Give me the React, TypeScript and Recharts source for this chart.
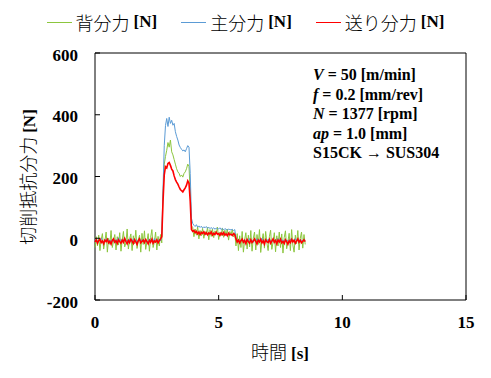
import { LineChart, Line, XAxis, YAxis, ReferenceArea } from "recharts";

// sampling interval of the logged data [s]
const STEP = 0.05;

// 背分力 [N]
const backForce = [
  -30, 5, -25, 10, -40, -5, 15, -35, -10, 20,
  -45, 0, -20, 25, -30, -8, 12, -38, 5, -22,
  18, -42, -6, 22, -28, -15, 30, -35, -2, 14,
  -40, 8, -18, 26, -33, -5, 10, -45, 16, -20,
  24, -36, -10, 15, -42, 3, 28, -30, -12, 20,
  -38, 6, -25, 12, -15, 140, 240, 265, 285, 310,
  295, 318, 280, 270, 255, 240, 225, 215, 210, 200,
  205, 198, 210, 215, 225, 240, 232, 150, 40, 35,
  5, 30, 10, 38, -2, 25, 8, 32, 0, 22,
  12, 35, -5, 28, 6, 30, 2, 24, 14, 36,
  -4, 20, 8, 33, 3, 26, 10, 30, -6, 22,
  12, 28, 4, 18, -25, 15, -40, 8, -30, 22,
  -45, -5, 18, -35, 10, -28, 25, -42, 0, 20,
  -38, 12, -20, 28, -46, -8, 15, -32, 22, -15,
  -40, 5, 26, -36, -12, 18, -44, 8, -25, 20,
  -30, 14, -48, 2, 24, -34, -10, 16, -40, 28,
  -22, -45, 10, -18, 25, -38, 0, 20, -32, 12,
  -20,
];

// 主分力 [N]
const mainForce = [
  -8, -2, -12, -5, -10, 0, -7, -14, -4, -9,
  -1, -11, -6, -13, -3, -8, -15, -5, -10, 2,
  -9, -4, -12, -7, -1, -10, -6, -14, -3, -8,
  -12, -2, -9, -5, -13, -7, 0, -11, -6, -4,
  -10, -3, -14, -8, -2, -9, -5, -12, -1, -7,
  -6, -11, -3, -9, 10, 160, 300, 365, 388, 362,
  392, 372, 382, 366, 372, 345, 330, 318, 302, 294,
  288, 283, 286, 280, 290, 300, 295, 210, 65, 48,
  42, 38, 44, 36, 40, 35, 39, 33, 37, 34,
  38, 32, 36, 31, 35, 30, 34, 29, 33, 31,
  30, 34, 28, 32, 27, 31, 29, 26, 30, 28,
  27, 29, 25, 28, 0, -8, -4, -11, -6, -2,
  -9, -5, -12, -3, -8, -1, -10, -6, -13, -4,
  -7, -2, -11, -5, -9, 0, -8, -12, -4, -10,
  -3, -9, -6, -13, -2, -8, -5, -11, -1, -7,
  -10, -4, -12, -6, -3, -9, -7, -14, -2, -8,
  -5, -11, -1, -9, -6, -12, -3, -8, -10, -4,
  -7,
];

// 送り分力 [N]
const feedForce = [
  -12, -5, -16, -8, -3, -14, -9, -18, -6, -11,
  -4, -15, -10, -19, -7, -2, -13, -8, -17, -5,
  -11, -16, -6, -13, -1, -10, -18, -7, -14, -3,
  -9, -17, -5, -12, -20, -8, -2, -15, -10, -6,
  -14, -4, -11, -18, -7, -13, -3, -16, -9, -12,
  -5, -15, -8, -2, 5, 120, 205, 232, 228, 242,
  245, 236, 224, 218, 202, 190, 182, 175, 166, 158,
  154, 150, 157, 163, 172, 186, 178, 120, 28, 22,
  25, 18, 22, 14, 20, 12, 19, 15, 21, 13,
  18, 11, 17, 14, 20, 10, 16, 12, 19, 13,
  15, 9, 17, 12, 18, 10, 14, 8, 16, 11,
  13, 9, 15, 12, -2, -12, -6, -15, -8, -3,
  -13, -7, -17, -4, -11, -16, -5, -14, -9, -2,
  -10, -18, -6, -12, -3, -15, -8, -19, -5, -11,
  -14, -4, -16, -9, -2, -13, -7, -18, -6, -12,
  -3, -15, -10, -17, -5, -11, -19, -8, -14, -4,
  -12, -6, -16, -9, -2, -13, -7, -15, -10, -5,
  -11,
];

const xTicks = [0, 5, 10, 15];
const yTicks = [-200, 0, 200, 400, 600];

const data = mainForce.map((_, i) => ({
  t: +(i * STEP).toFixed(2),
  back: backForce[i],
  main: mainForce[i],
  feed: feedForce[i],
}));

const GREEN = "#8cc63e";
const BLUE = "#5b9bd5";
const RED = "#ff0000";

const JP = "Noto Sans CJK JP, sans-serif";
const SERIF = "Liberation Serif, Tinos, DejaVu Serif, serif";

const YTick = (props: any) => {
  const { x, y, payload } = props;
  return (
    <g>
      <line x1={x + 17} x2={x + 22} y1={y} y2={y} stroke="#000" />
      <text x={x} y={y + 2} textAnchor="end" dominantBaseline="central"
        style={{ fontFamily: SERIF, fontWeight: 700, fontSize: 17 }} fill="#000">
        {payload.value}
      </text>
    </g>
  );
};

const XTick = (props: any) => {
  const { x, y, payload } = props;
  return (
    <g>
      <line x1={x} x2={x} y1={y - 22} y2={y - 27} stroke="#000" />
      <text x={x} y={y} textAnchor="middle" dominantBaseline="central"
        style={{ fontFamily: SERIF, fontWeight: 700, fontSize: 17 }} fill="#000">
        {payload.value}
      </text>
    </g>
  );
};

const legendItems = [
  { label: "背分力", color: GREEN },
  { label: "主分力", color: BLUE },
  { label: "送り分力", color: RED },
];

export default function App() {
  return (
    <div style={{ position: "absolute", left: 0, top: 0, width: 491, height: 378, background: "#fff" }}>
      {/* legend */}
      <div style={{ position: "absolute", top: 10, left: 0, width: 491, display: "flex", justifyContent: "center", gap: 24 }}>
        {legendItems.map((it) => (
          <div key={it.label} style={{ display: "flex", alignItems: "center", height: 24 }}>
            <span style={{ display: "inline-block", width: 25, height: 0, borderTop: `1px solid ${it.color}`, marginRight: 4 }} />
            <span style={{ fontFamily: JP, fontSize: 18, fontWeight: 300, color: "#000" }}>{it.label}</span>
            <span style={{ fontFamily: SERIF, fontWeight: 700, fontSize: 17, marginLeft: 4 }}>[N]</span>
          </div>
        ))}
      </div>

      <LineChart width={491} height={378} data={data}
        margin={{ top: 53, right: 25, bottom: 48, left: 35 }}>
        <XAxis dataKey="t" type="number" domain={[0, 15]} ticks={xTicks}
          axisLine={false} tickLine={false} tickSize={0} tickMargin={22}
          tick={<XTick />} height={30} interval={0} />
        <YAxis type="number" domain={[-200, 600]} ticks={yTicks}
          axisLine={false} tickLine={false} tickSize={0} tickMargin={17}
          tick={<YTick />} width={60} interval={0} />
        <ReferenceArea x1={0} x2={15} y1={-200} y2={600} stroke="#000" strokeWidth={1}
          fill="none" fillOpacity={0} ifOverflow="visible" />
        <Line dataKey="back" stroke={GREEN} strokeWidth={1} dot={false} isAnimationActive={false} />
        <Line dataKey="main" stroke={BLUE} strokeWidth={1} dot={false} isAnimationActive={false} />
        <Line dataKey="feed" stroke={RED} strokeWidth={1.6} dot={false} isAnimationActive={false} />
      </LineChart>

      {/* y axis title */}
      <div style={{ position: "absolute", left: 27, top: 177, transform: "translate(-50%, -50%) rotate(-90deg)", whiteSpace: "nowrap" }}>
        <span style={{ fontFamily: JP, fontSize: 18, fontWeight: 300 }}>切削抵抗分力</span>
        <span style={{ fontFamily: SERIF, fontWeight: 700, fontSize: 17, marginLeft: 4 }}>[N]</span>
      </div>

      {/* x axis title */}
      <div style={{ position: "absolute", left: 280, top: 351, transform: "translate(-50%, -50%)", whiteSpace: "nowrap" }}>
        <span style={{ fontFamily: JP, fontSize: 18, fontWeight: 300 }}>時間</span>
        <span style={{ fontFamily: SERIF, fontWeight: 700, fontSize: 17, marginLeft: 4 }}>[s]</span>
      </div>

      {/* cutting conditions */}
      <div style={{ position: "absolute", left: 313, top: 65, fontFamily: SERIF, fontWeight: 700, fontSize: 16, lineHeight: "19.5px", color: "#000", whiteSpace: "nowrap" }}>
        <div><i>V</i> = 50 [m/min]</div>
        <div><i>f</i> = 0.2 [mm/rev]</div>
        <div><i>N</i> = 1377 [rpm]</div>
        <div><i>ap</i> = 1.0 [mm]</div>
        <div>S15CK → SUS304</div>
      </div>
    </div>
  );
}
